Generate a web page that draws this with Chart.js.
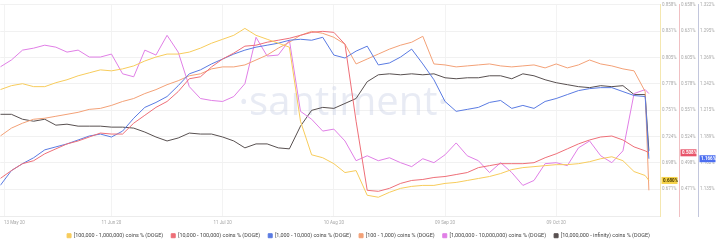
<!DOCTYPE html>
<html><head><meta charset="utf-8">
<script src="https://cdn.jsdelivr.net/npm/chart.js@4.4.1/dist/chart.umd.min.js"></script>
<style>html,body{margin:0;padding:0;background:#fff;}#wrap{width:717px;height:243px;position:relative;overflow:hidden;}</style>
</head><body><div id="wrap"><canvas id="c" width="717" height="243"></canvas></div>
<script>
// Day offsets from 12 May 2020
const days = [0,3,6,9,12,15,18,21,24,27,30,33,36,39,42,45,48,51,54,57,60,63,66,69,72,75,78,81,84,87,90,93,96,99,102,105,108,111,114,117,120,123,126,129,132,135,138,141,144,147,150,153,156,159,162,165,168,171,174,175];
const xTickDays = [1,30,60,90,120,150,178];
const xTickLabels = ["13 May 20","11 Jun 20","11 Jul 20","10 Aug 20","09 Sep 20","09 Oct 20",""];

const labels = [
  "[100,000 - 1,000,000) coins % (DOGE)",
  "[10,000 - 100,000) coins % (DOGE)",
  "[1,000 - 10,000) coins % (DOGE)",
  "[100 - 1,000) coins % (DOGE)",
  "[1,000,000 - 10,000,000) coins % (DOGE)",
  "[10,000,000 - infinity) coins % (DOGE)"
];
const colors = ["#f7cc5c","#ee6f78","#5a7be2","#f3a177","#e07fe6","#585050"];

const holders100kTo1M = [0.772,0.776,0.778,0.775,0.775,0.779,0.782,0.786,0.789,0.792,0.791,0.793,0.796,0.801,0.805,0.808,0.808,0.810,0.814,0.819,0.823,0.827,0.834,0.827,0.823,0.819,0.815,0.740,0.706,0.703,0.697,0.688,0.690,0.665,0.663,0.668,0.672,0.674,0.675,0.675,0.677,0.678,0.680,0.682,0.684,0.687,0.691,0.693,0.694,0.695,0.696,0.696,0.697,0.699,0.702,0.704,0.700,0.689,0.685,0.680];
const holders10kTo100k = [0.482,0.490,0.497,0.500,0.507,0.512,0.517,0.520,0.524,0.528,0.527,0.527,0.538,0.546,0.554,0.560,0.570,0.583,0.585,0.595,0.603,0.609,0.616,0.617,0.620,0.622,0.624,0.627,0.630,0.631,0.630,0.618,0.540,0.470,0.469,0.472,0.477,0.480,0.481,0.483,0.484,0.486,0.488,0.493,0.495,0.497,0.497,0.497,0.498,0.503,0.507,0.512,0.517,0.521,0.524,0.525,0.521,0.514,0.510,0.508];
const holders1kTo10k = [1.139,1.154,1.161,1.167,1.175,1.178,1.181,1.185,1.189,1.191,1.188,1.194,1.207,1.218,1.223,1.229,1.240,1.252,1.256,1.262,1.267,1.272,1.276,1.279,1.281,1.283,1.286,1.287,1.286,1.289,1.271,1.268,1.275,1.280,1.261,1.263,1.269,1.277,1.262,1.246,1.224,1.214,1.216,1.218,1.223,1.225,1.217,1.220,1.217,1.224,1.227,1.231,1.235,1.237,1.238,1.238,1.234,1.230,1.229,1.166];
const holders100To1k = [0.0665,0.0673,0.0678,0.0682,0.0683,0.0685,0.0687,0.0689,0.0692,0.0693,0.0696,0.0700,0.0703,0.0708,0.0712,0.0717,0.0721,0.0726,0.0728,0.0733,0.0735,0.0735,0.0737,0.0742,0.0747,0.0754,0.0760,0.0767,0.0771,0.0769,0.0765,0.0758,0.0738,0.0743,0.0748,0.0753,0.0757,0.0760,0.0766,0.0738,0.0737,0.0735,0.0736,0.0737,0.0738,0.0736,0.0735,0.0736,0.0737,0.0734,0.0738,0.0734,0.0737,0.0742,0.0738,0.0736,0.0733,0.0731,0.0710,0.0610];
const holders1MTo10M = [14.35,14.42,14.52,14.54,14.57,14.55,14.50,14.52,14.45,14.45,14.48,14.28,14.25,14.52,14.47,14.67,14.50,14.15,14.03,14.01,14.00,14.05,14.18,14.65,14.46,14.47,14.62,13.90,13.82,13.70,13.72,13.60,13.40,13.45,13.40,13.43,13.38,13.34,13.42,13.38,13.46,13.58,13.45,13.40,13.28,13.38,13.28,13.15,13.20,13.37,13.38,13.35,13.53,13.60,13.45,13.38,13.50,14.08,14.12,14.08];
const holders10MPlus = [78.87,78.87,78.82,78.80,78.82,78.76,78.77,78.75,78.75,78.75,78.74,78.74,78.73,78.69,78.64,78.60,78.63,78.68,78.67,78.67,78.64,78.60,78.53,78.57,78.57,78.53,78.52,78.75,78.91,78.94,78.93,78.98,79.03,79.20,79.27,79.28,79.27,79.28,79.27,79.28,79.24,79.23,79.24,79.24,79.26,79.26,79.23,79.28,79.26,79.22,79.19,79.17,79.15,79.14,79.16,79.15,79.16,79.07,79.07,78.50];

const seriesValues = [holders100kTo1M, holders10kTo100k, holders1kTo10k, holders100To1k, holders1MTo10M, holders10MPlus];
const axisIds = ["y1","y2","y3","y4","y5","y6"];

const FONT = 'Roboto, "Open Sans", sans-serif';

function rightAxis(min, max, step, borderColor, showGrid) {
  return {
    type: 'linear', position: 'right', min, max, display: true,
    grid: { display: showGrid, drawOnChartArea: showGrid, drawTicks: false, color: '#f1f1f1', lineWidth: 1 },
    border: { display: true, color: borderColor, width: 1 },
    ticks: { color: '#a8a8a8', font: { size: 4.5, family: FONT }, padding: 2, crossAlign: 'near',
      callback: v => v.toFixed(3) + '%' },
    afterBuildTicks: s => { s.ticks = Array.from({length: 8}, (_, j) => ({ value: max - j * step })); },
    afterFit: s => { s.width = 19; }
  };
}
function hiddenAxis(min, max) { return { type: 'linear', display: false, min, max }; }

const badges = [
  { axis: 'y1', ds: 0, bg: '#f6d34a', fg: '#4a3b00' },
  { axis: 'y2', ds: 1, bg: '#e8546a', fg: '#ffffff' },
  { axis: 'y3', ds: 2, bg: '#4d6ff0', fg: '#ffffff' }
];

const extras = {
  id: 'extras',
  beforeInit(chart) {
    const fit = chart.legend.fit;
    chart.legend.fit = function () { fit.call(this); this.height = 18; };
  },
  beforeDatasetsDraw(chart) {
    const { ctx, chartArea: a } = chart;
    ctx.save();
    ctx.font = '400 40px "Open Sans"';
    ctx.fillStyle = 'rgba(205,210,230,0.45)';
    ctx.textAlign = 'center'; ctx.textBaseline = 'middle';
    ctx.fillText('\u00B7santiment\u00B7', a.left + a.width * 0.52, a.top + a.height * 0.47);
    ctx.restore();
  },
  afterDraw(chart) {
    const ctx = chart.ctx;
    ctx.save();
    badges.forEach(b => {
      const sc = chart.scales[b.axis];
      const d = chart.data.datasets[b.ds].data;
      const v = d[d.length - 1].y;
      const y = sc.getPixelForValue(v);
      ctx.fillStyle = b.bg;
      ctx.fillRect(sc.left + 1.5, y - 3.5, sc.width - 3, 7);
      ctx.fillStyle = b.fg;
      ctx.font = 'bold 4.5px ' + FONT;
      ctx.textAlign = 'left'; ctx.textBaseline = 'middle';
      ctx.fillText(v.toFixed(3) + '%', sc.left + 3, y + 0.3);
    });
    ctx.restore();
  }
};

new Chart(document.getElementById('c'), {
  type: 'line',
  data: {
    datasets: seriesValues.map((vals, k) => ({
      label: labels[k],
      data: days.map((d, i) => ({ x: d, y: vals[i] })),
      borderColor: colors[k], backgroundColor: colors[k],
      borderWidth: 1, pointRadius: 0, tension: 0, yAxisID: axisIds[k]
    }))
  },
  options: {
    responsive: false, animation: false, devicePixelRatio: 1,
    layout: { autoPadding: false, padding: { top: 2, left: 0, right: 0, bottom: 0 } },
    plugins: {
      legend: { position: 'bottom', labels: { boxWidth: 4, boxHeight: 4, padding: 8, color: '#444', font: { size: 5.45, family: FONT } } },
      tooltip: { enabled: false }
    },
    scales: {
      x: {
        type: 'linear', min: 0, max: 178,
        grid: { color: '#f3f3f3', drawTicks: false },
        border: { display: true, color: '#ececec' },
        ticks: { color: '#a8a8a8', font: { size: 4.5, family: FONT }, padding: 4, maxRotation: 0, align: 'inner',
          callback: v => { const k = xTickDays.indexOf(v); return k >= 0 ? xTickLabels[k] : ''; } },
        afterBuildTicks: s => { s.ticks = xTickDays.map(v => ({ value: v })); },
        afterFit: s => { s.height = 9; }
      },
      y1: rightAxis(0.644, 0.858, 0.0267, '#f4e7b0', true),
      y2: rightAxis(0.444, 0.658, 0.0267, '#f0c0c3', false),
      y3: rightAxis(1.108, 1.322, 0.0267, '#c2c6dc', false),
      y4: hiddenAxis(0.0584, 0.0798),
      y5: hiddenAxis(12.84, 14.98),
      y6: hiddenAxis(77.84, 79.98)
    }
  },
  plugins: [extras]
});
</script></body></html>
